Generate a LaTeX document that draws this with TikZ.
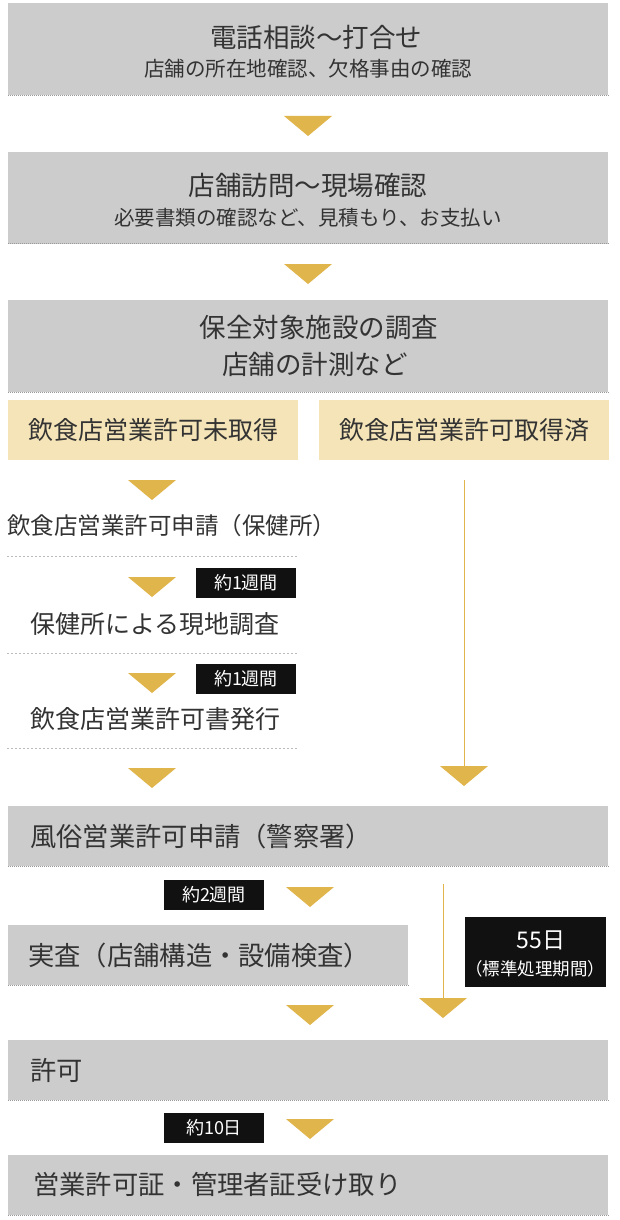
\documentclass[tikz,border=0pt]{standalone}
\usepackage{fontspec}
\setmainfont{Noto Sans CJK JP}
\definecolor{boxgray}{HTML}{CCCCCC}
\definecolor{boxyel}{HTML}{F4E4B7}
\definecolor{gold}{HTML}{E0B64C}
\definecolor{txt}{HTML}{333333}
\definecolor{lab}{HTML}{111111}
\definecolor{dotc}{HTML}{999999}
\definecolor{dotl}{HTML}{BBBBBB}
\newcommand\fTitle{\fontsize{26.5}{31}\selectfont}
\newcommand\fYel{\fontsize{25}{30}\selectfont}
\newcommand\fSub{\fontsize{20.5}{24}\selectfont}
\newcommand\fBig{\fontsize{26.3}{31}\selectfont}
\newcommand\fMid{\fontsize{23.5}{28}\selectfont}
\newcommand\fStep{\fontsize{25}{30}\selectfont}
\newcommand\fLab{\fontsize{18}{21}\selectfont}
\tikzset{
  gbox/.style={fill=boxgray, inner sep=0pt, minimum width=600pt, minimum height=92pt},
  rowbox/.style={fill=boxgray, inner sep=0pt, minimum height=60pt},
  ybox/.style={fill=boxyel, inner sep=0pt, minimum width=290pt, minimum height=60pt},
  ctext/.style={text=txt, inner sep=0pt, anchor=center},
  ltext/.style={text=txt, inner sep=0pt, anchor=west},
  blabel/.style={fill=lab, text=white, inner sep=0pt, font=\fLab, minimum width=100pt, minimum height=30pt},
  dotline/.style={dotc, line width=1pt, dash pattern=on 1pt off 1pt},
  sepline/.style={dotl, line width=1pt, dash pattern=on 2pt off 2pt},
  vline/.style={gold, line width=1pt},
  tri/.pic={\fill[gold] (-24,0) -- (24,0) -- (0,20) -- cycle;}
}
\begin{document}
\begin{tikzpicture}[x=1pt,y=-1pt]
\fill[white] (0,0) rectangle (620,1220);
\useasboundingbox (0,0) rectangle (620,1220);

% box 1
\node[gbox] (b1) at (308,49) {};
\draw[dotline] (b1.south west) -- (b1.south east);
\node[ctext, font=\fTitle] (t1) at (316,37) {電話相談～打合せ};
\node[ctext, font=\fSub] (s1) at (308,69) {店舗の所在地確認、欠格事由の確認};
\pic at (308,116) {tri};

% box 2
\node[gbox] (b2) at (308,197.5) {};
\draw[dotline] (b2.south west) -- (b2.south east);
\node[ctext, font=\fTitle] (t2) at (308,185) {店舗訪問～現場確認};
\node[ctext, font=\fSub] (s2) at (308,218) {必要書類の確認など、見積もり、お支払い};
\pic at (308,264) {tri};

% box 3
\node[gbox] (b3) at (308,346) {};
\draw[dotline] (b3.south west) -- (b3.south east);
\node[ctext, font=\fTitle] (t3) at (319,327) {保全対象施設の調査};
\node[ctext, font=\fTitle] (s3) at (315,364) {店舗の計測など};

% yellow boxes
\node[ybox] (y1) at (153,430) {};
\node[ctext, font=\fYel] (yt1) at (y1) {飲食店営業許可未取得};
\node[ybox] (y2) at (464,430) {};
\node[ctext, font=\fYel] (yt2) at (y2) {飲食店営業許可取得済};

% left branch
\pic at (152,480) {tri};
\node[ltext, font=\fMid] (l1) at (7,526) {飲食店営業許可申請（保健所）};
\draw[sepline] (7,556) -- (298,556);
\pic at (152,577) {tri};
\node[blabel] (w1) at (246,583) {約1週間};
\node[ltext, font=\fStep] (l2) at (30,624) {保健所による現地調査};
\draw[sepline] (7,653) -- (298,653);
\pic at (152,673) {tri};
\node[blabel] (w2) at (246,679) {約1週間};
\node[ltext, font=\fStep] (l3) at (30,719) {飲食店営業許可書発行};
\draw[sepline] (7,748) -- (298,748);
\pic at (152,768) {tri};

% right branch
\coordinate (r0) at (464,480);
\coordinate (r1) at (464,768);
\draw[vline] (r0) -- (r1);
\pic at (464,766) {tri};

% police
\node[rowbox, minimum width=600pt] (p1) at (308,836) {};
\draw[dotline] (p1.south west) -- (p1.south east);
\node[ltext, font=\fBig] (pt1) at (30,836) {風俗営業許可申請（警察署）};

\node[blabel] (w3) at (214,895) {約2週間};
\pic at (310,887) {tri};

\coordinate (q0) at (443,884);
\coordinate (q1) at (443,1000);
\draw[vline] (q0) -- (q1);
\pic at (443,998) {tri};

\node[rowbox, minimum width=400pt] (p2) at (208,955) {};
\draw[dotline] (p2.south west) -- (p2.south east);
\node[ltext, font=\fBig] (pt2) at (28,955) {実査（店舗構造・設備検査）};

\node[fill=lab, inner sep=0pt, minimum width=141pt, minimum height=70pt] (d55) at (535,952) {};
\node[text=white, inner sep=0pt, font=\fontsize{23}{27}\selectfont] (d55a) at (541,940) {55日};
\node[text=white, inner sep=0pt, font=\fontsize{17.5}{21}\selectfont] (d55b) at (535,969) {（標準処理期間）};

\pic at (310,1005) {tri};

% permit
\node[rowbox, minimum width=600pt] (p3) at (308,1070) {};
\draw[dotline] (p3.south west) -- (p3.south east);
\node[ltext, font=\fBig] (pt3) at (30,1070) {許可};

\node[blabel] (w4) at (214,1127.5) {約10日};
\pic at (310,1119) {tri};

\node[rowbox, minimum width=600pt] (p4) at (308,1185) {};
\draw[dotline] (p4.south west) -- (p4.south east);
\node[ltext, font=\fBig] (pt4) at (33,1184) {営業許可証・管理者証受け取り};
\end{tikzpicture}
\end{document}
